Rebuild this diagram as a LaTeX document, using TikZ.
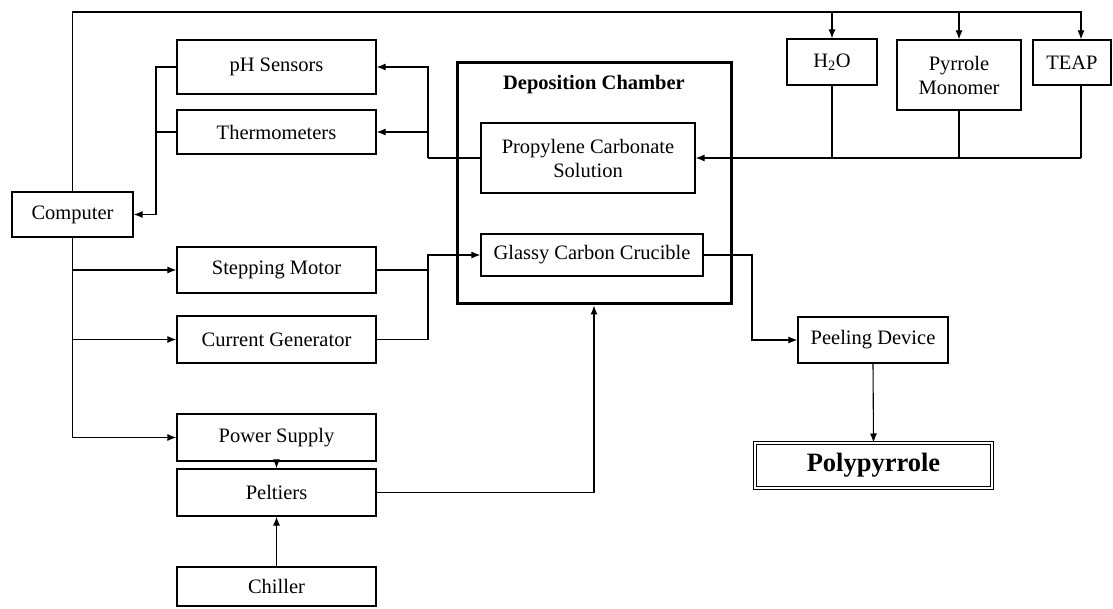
\documentclass[tikz,border=0pt]{standalone}
\usepackage{fontspec}
\setmainfont{Liberation Serif}
\usetikzlibrary{arrows.meta}
\begin{document}
\begin{tikzpicture}[x=1pt,y=-1pt,
  box/.style={draw, line width=1.2pt, inner sep=0pt, align=center,
    font=\fontsize{20.5}{24}\selectfont},
  chamberbox/.style={draw, line width=3pt, inner sep=0pt},
  arr/.style={-{Latex[length=9pt,width=7pt]}},
  conn/.style={line width=1.1pt}]
\useasboundingbox (0,0) rectangle (1113,609);
% nodes
\node[box, minimum width=121pt, minimum height=45pt] (comp) at (72.5,214.5) {Computer};
\node[box, minimum width=199pt, minimum height=54pt] (ph) at (276.5,67) {pH Sensors};
\node[box, minimum width=199pt, minimum height=44pt] (therm) at (276.5,132) {Thermometers};
\node[box, minimum width=199pt, minimum height=46pt] (step) at (276.5,270) {Stepping Motor};
\node[box, minimum width=199pt, minimum height=47pt] (curr) at (276.5,339.5) {Current Generator};
\node[box, minimum width=199pt, minimum height=47pt] (pow) at (276.5,437.5) {Power Supply};
\node[box, minimum width=199pt, minimum height=47pt] (pelt) at (276.5,492.5) {Peltiers};
\node[box, minimum width=199pt, minimum height=39pt] (chill) at (276.5,586.5) {Chiller};
\node[chamberbox, minimum width=274pt, minimum height=241pt] (chamber) at (594,183.5) {};
\node[font=\fontsize{20.5}{24}\selectfont\bfseries, inner sep=0pt] (title) at (594,85) {Deposition Chamber};
\node[box, minimum width=214pt, minimum height=70pt] (prop) at (588,158) {Propylene Carbonate\\Solution};
\node[box, minimum width=222pt, minimum height=42pt] (glassy) at (592,255) {Glassy Carbon Crucible};
\node[box, minimum width=90pt, minimum height=46pt] (h2o) at (832,62) {H\textsubscript{2}O};
\node[box, minimum width=124pt, minimum height=70pt] (pyr) at (959,75) {Pyrrole\\Monomer};
\node[box, minimum width=78pt, minimum height=45pt] (teap) at (1072,62.5) {TEAP};
\node[box, minimum width=150pt, minimum height=46pt] (peel) at (873,340) {Peeling Device};
\node[box, double, double distance=2pt, line width=1pt, minimum width=237pt, minimum height=45pt,
  font=\fontsize{26.5}{30}\selectfont\bfseries] (poly) at (873.5,465.5) {Polypyrrole};
% junction coordinates
\coordinate (tb) at (1081,12);
\coordinate (fb) at (1081,158);
\coordinate (sj) at (428,158);
\coordinate (lj) at (156,214.5);
\coordinate (gj) at (428,255);
\coordinate (pj) at (752,255);
% connectors
\draw[conn,arr] (comp.north) |- (tb) -- (tb |- teap.north);
\draw[conn,arr] (h2o.north |- tb) -- (h2o.north);
\draw[conn,arr] (pyr.north |- tb) -- (pyr.north);
\draw[conn] (teap.south -| fb) -- (fb);
\draw[conn] (h2o.south) -- (h2o.south |- fb);
\draw[conn] (pyr.south) -- (pyr.south |- fb);
\draw[conn,arr] (fb) -- (prop.east);
\draw[conn] (prop.west) -- (sj);
\draw[conn,arr] (sj) |- (ph.east);
\draw[conn,arr] (sj |- therm.east) -- (therm.east);
\draw[conn,arr] (ph.west) -| (lj) -- (comp.east);
\draw[conn] (therm.west) -- (therm.west -| lj);
\draw[conn,arr] (comp.south) |- (pow.west);
\draw[conn,arr] (comp.south |- step.west) -- (step.west);
\draw[conn,arr] (comp.south |- curr.west) -- (curr.west);
\draw[conn,arr] (step.east) -| (gj) -- (glassy.west);
\draw[conn] (curr.east) -| (gj);
\draw[conn,arr] (pow.south) -- (pelt.north);
\draw[conn,arr] (chill.north) -- (pelt.south);
\draw[conn,arr] (pelt.east) -| (chamber.south);
\draw[conn,arr] (glassy.east) -- (pj) |- (peel.west);
\draw[conn,arr] (peel.south) -- (poly.north);
\end{tikzpicture}
\end{document}
